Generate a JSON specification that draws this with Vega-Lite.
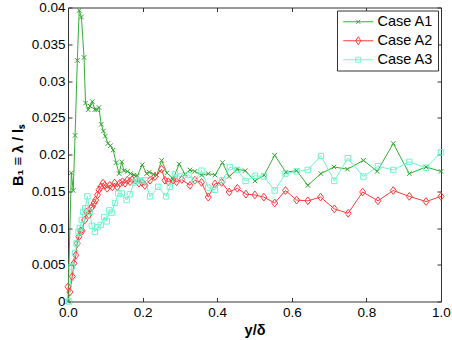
{
  "$schema": "https://vega.github.io/schema/vega-lite/v6.json",
  "width": 373,
  "height": 294,
  "autosize": {"type": "none"},
  "padding": {"left": 68, "top": 7.5, "right": 11, "bottom": 38.5},
  "config": {
    "font": "Liberation Sans",
    "view": {"stroke": "#333333", "strokeWidth": 1},
    "axis": {
      "grid": false,
      "domain": false,
      "labelFlush": false,
      "labelOverlap": false,
      "labelFont": "Liberation Sans",
      "labelFontSize": 13.5,
      "labelColor": "#000000",
      "tickColor": "#333333",
      "tickSize": -4,
      "labelPadding": 7,
      "titleFont": "Liberation Sans",
      "titleFontSize": 14.5,
      "titleFontWeight": "bold",
      "titleColor": "#000000"
    }
  },
  "datasets": {
    "pts": [
      {"case": "Case A1", "x": 0.0, "y": 0.0},
      {"case": "Case A1", "x": 0.009, "y": 0.0175},
      {"case": "Case A1", "x": 0.014, "y": 0.0151},
      {"case": "Case A1", "x": 0.019, "y": 0.0226},
      {"case": "Case A1", "x": 0.025, "y": 0.0328},
      {"case": "Case A1", "x": 0.030, "y": 0.0396},
      {"case": "Case A1", "x": 0.036, "y": 0.0387},
      {"case": "Case A1", "x": 0.043, "y": 0.0332},
      {"case": "Case A1", "x": 0.047, "y": 0.0270},
      {"case": "Case A1", "x": 0.054, "y": 0.0261},
      {"case": "Case A1", "x": 0.059, "y": 0.0266},
      {"case": "Case A1", "x": 0.065, "y": 0.0272},
      {"case": "Case A1", "x": 0.072, "y": 0.0261},
      {"case": "Case A1", "x": 0.077, "y": 0.0261},
      {"case": "Case A1", "x": 0.083, "y": 0.0264},
      {"case": "Case A1", "x": 0.089, "y": 0.0241},
      {"case": "Case A1", "x": 0.095, "y": 0.0232},
      {"case": "Case A1", "x": 0.100, "y": 0.0225},
      {"case": "Case A1", "x": 0.107, "y": 0.0215},
      {"case": "Case A1", "x": 0.114, "y": 0.0212},
      {"case": "Case A1", "x": 0.121, "y": 0.0206},
      {"case": "Case A1", "x": 0.129, "y": 0.0189},
      {"case": "Case A1", "x": 0.137, "y": 0.0174},
      {"case": "Case A1", "x": 0.144, "y": 0.0190},
      {"case": "Case A1", "x": 0.150, "y": 0.0178},
      {"case": "Case A1", "x": 0.159, "y": 0.0177},
      {"case": "Case A1", "x": 0.168, "y": 0.0174},
      {"case": "Case A1", "x": 0.177, "y": 0.0172},
      {"case": "Case A1", "x": 0.186, "y": 0.0171},
      {"case": "Case A1", "x": 0.199, "y": 0.0186},
      {"case": "Case A1", "x": 0.211, "y": 0.0174},
      {"case": "Case A1", "x": 0.218, "y": 0.0176},
      {"case": "Case A1", "x": 0.229, "y": 0.0173},
      {"case": "Case A1", "x": 0.238, "y": 0.0172},
      {"case": "Case A1", "x": 0.251, "y": 0.0192},
      {"case": "Case A1", "x": 0.265, "y": 0.0175},
      {"case": "Case A1", "x": 0.282, "y": 0.0167},
      {"case": "Case A1", "x": 0.298, "y": 0.0187},
      {"case": "Case A1", "x": 0.314, "y": 0.0173},
      {"case": "Case A1", "x": 0.327, "y": 0.0179},
      {"case": "Case A1", "x": 0.340, "y": 0.0177},
      {"case": "Case A1", "x": 0.358, "y": 0.0172},
      {"case": "Case A1", "x": 0.376, "y": 0.0174},
      {"case": "Case A1", "x": 0.394, "y": 0.0172},
      {"case": "Case A1", "x": 0.414, "y": 0.0189},
      {"case": "Case A1", "x": 0.432, "y": 0.0170},
      {"case": "Case A1", "x": 0.454, "y": 0.0180},
      {"case": "Case A1", "x": 0.475, "y": 0.0178},
      {"case": "Case A1", "x": 0.501, "y": 0.0164},
      {"case": "Case A1", "x": 0.526, "y": 0.0172},
      {"case": "Case A1", "x": 0.554, "y": 0.0199},
      {"case": "Case A1", "x": 0.584, "y": 0.0176},
      {"case": "Case A1", "x": 0.613, "y": 0.0178},
      {"case": "Case A1", "x": 0.643, "y": 0.0158},
      {"case": "Case A1", "x": 0.678, "y": 0.0174},
      {"case": "Case A1", "x": 0.713, "y": 0.0183},
      {"case": "Case A1", "x": 0.749, "y": 0.0180},
      {"case": "Case A1", "x": 0.792, "y": 0.0192},
      {"case": "Case A1", "x": 0.829, "y": 0.0177},
      {"case": "Case A1", "x": 0.872, "y": 0.0215},
      {"case": "Case A1", "x": 0.915, "y": 0.0174},
      {"case": "Case A1", "x": 0.960, "y": 0.0183},
      {"case": "Case A1", "x": 1.0, "y": 0.0177},

      {"case": "Case A2", "x": 0.0, "y": 0.0020},
      {"case": "Case A2", "x": 0.005, "y": 0.0013},
      {"case": "Case A2", "x": 0.0115, "y": 0.0034},
      {"case": "Case A2", "x": 0.016, "y": 0.0052},
      {"case": "Case A2", "x": 0.021, "y": 0.0063},
      {"case": "Case A2", "x": 0.025, "y": 0.0079},
      {"case": "Case A2", "x": 0.029, "y": 0.0088},
      {"case": "Case A2", "x": 0.034, "y": 0.0096},
      {"case": "Case A2", "x": 0.038, "y": 0.0096},
      {"case": "Case A2", "x": 0.045, "y": 0.0111},
      {"case": "Case A2", "x": 0.050, "y": 0.0122},
      {"case": "Case A2", "x": 0.056, "y": 0.0118},
      {"case": "Case A2", "x": 0.061, "y": 0.0127},
      {"case": "Case A2", "x": 0.065, "y": 0.0129},
      {"case": "Case A2", "x": 0.070, "y": 0.0134},
      {"case": "Case A2", "x": 0.074, "y": 0.0138},
      {"case": "Case A2", "x": 0.079, "y": 0.0145},
      {"case": "Case A2", "x": 0.083, "y": 0.0152},
      {"case": "Case A2", "x": 0.088, "y": 0.0156},
      {"case": "Case A2", "x": 0.094, "y": 0.0161},
      {"case": "Case A2", "x": 0.099, "y": 0.0158},
      {"case": "Case A2", "x": 0.105, "y": 0.0154},
      {"case": "Case A2", "x": 0.112, "y": 0.0158},
      {"case": "Case A2", "x": 0.119, "y": 0.0156},
      {"case": "Case A2", "x": 0.125, "y": 0.0161},
      {"case": "Case A2", "x": 0.132, "y": 0.0156},
      {"case": "Case A2", "x": 0.139, "y": 0.0161},
      {"case": "Case A2", "x": 0.146, "y": 0.0163},
      {"case": "Case A2", "x": 0.153, "y": 0.0161},
      {"case": "Case A2", "x": 0.159, "y": 0.0165},
      {"case": "Case A2", "x": 0.166, "y": 0.0163},
      {"case": "Case A2", "x": 0.172, "y": 0.0166},
      {"case": "Case A2", "x": 0.181, "y": 0.0165},
      {"case": "Case A2", "x": 0.190, "y": 0.0161},
      {"case": "Case A2", "x": 0.198, "y": 0.0162},
      {"case": "Case A2", "x": 0.206, "y": 0.0158},
      {"case": "Case A2", "x": 0.220, "y": 0.0165},
      {"case": "Case A2", "x": 0.233, "y": 0.0170},
      {"case": "Case A2", "x": 0.251, "y": 0.0180},
      {"case": "Case A2", "x": 0.260, "y": 0.0165},
      {"case": "Case A2", "x": 0.269, "y": 0.0163},
      {"case": "Case A2", "x": 0.282, "y": 0.0165},
      {"case": "Case A2", "x": 0.291, "y": 0.0163},
      {"case": "Case A2", "x": 0.305, "y": 0.0166},
      {"case": "Case A2", "x": 0.327, "y": 0.0158},
      {"case": "Case A2", "x": 0.340, "y": 0.0165},
      {"case": "Case A2", "x": 0.358, "y": 0.0162},
      {"case": "Case A2", "x": 0.376, "y": 0.0142},
      {"case": "Case A2", "x": 0.394, "y": 0.0160},
      {"case": "Case A2", "x": 0.412, "y": 0.0162},
      {"case": "Case A2", "x": 0.432, "y": 0.0149},
      {"case": "Case A2", "x": 0.454, "y": 0.0154},
      {"case": "Case A2", "x": 0.477, "y": 0.0146},
      {"case": "Case A2", "x": 0.501, "y": 0.0145},
      {"case": "Case A2", "x": 0.525, "y": 0.0142},
      {"case": "Case A2", "x": 0.554, "y": 0.0134},
      {"case": "Case A2", "x": 0.583, "y": 0.0151},
      {"case": "Case A2", "x": 0.613, "y": 0.0138},
      {"case": "Case A2", "x": 0.643, "y": 0.0137},
      {"case": "Case A2", "x": 0.677, "y": 0.0142},
      {"case": "Case A2", "x": 0.714, "y": 0.0126},
      {"case": "Case A2", "x": 0.751, "y": 0.0120},
      {"case": "Case A2", "x": 0.790, "y": 0.0149},
      {"case": "Case A2", "x": 0.831, "y": 0.0137},
      {"case": "Case A2", "x": 0.872, "y": 0.0151},
      {"case": "Case A2", "x": 0.915, "y": 0.0143},
      {"case": "Case A2", "x": 0.960, "y": 0.0136},
      {"case": "Case A2", "x": 1.0, "y": 0.0143},

      {"case": "Case A3", "x": 0.003, "y": 0.0},
      {"case": "Case A3", "x": 0.010, "y": 0.0047},
      {"case": "Case A3", "x": 0.019, "y": 0.0066},
      {"case": "Case A3", "x": 0.023, "y": 0.0079},
      {"case": "Case A3", "x": 0.028, "y": 0.0095},
      {"case": "Case A3", "x": 0.032, "y": 0.0100},
      {"case": "Case A3", "x": 0.037, "y": 0.0111},
      {"case": "Case A3", "x": 0.041, "y": 0.0122},
      {"case": "Case A3", "x": 0.046, "y": 0.0127},
      {"case": "Case A3", "x": 0.052, "y": 0.0143},
      {"case": "Case A3", "x": 0.059, "y": 0.0122},
      {"case": "Case A3", "x": 0.064, "y": 0.0103},
      {"case": "Case A3", "x": 0.072, "y": 0.0095},
      {"case": "Case A3", "x": 0.079, "y": 0.0101},
      {"case": "Case A3", "x": 0.088, "y": 0.0104},
      {"case": "Case A3", "x": 0.097, "y": 0.0115},
      {"case": "Case A3", "x": 0.104, "y": 0.0109},
      {"case": "Case A3", "x": 0.111, "y": 0.0124},
      {"case": "Case A3", "x": 0.117, "y": 0.0121},
      {"case": "Case A3", "x": 0.126, "y": 0.0134},
      {"case": "Case A3", "x": 0.135, "y": 0.0147},
      {"case": "Case A3", "x": 0.144, "y": 0.0147},
      {"case": "Case A3", "x": 0.157, "y": 0.0138},
      {"case": "Case A3", "x": 0.166, "y": 0.0146},
      {"case": "Case A3", "x": 0.177, "y": 0.0162},
      {"case": "Case A3", "x": 0.186, "y": 0.0165},
      {"case": "Case A3", "x": 0.196, "y": 0.0164},
      {"case": "Case A3", "x": 0.206, "y": 0.0165},
      {"case": "Case A3", "x": 0.220, "y": 0.0143},
      {"case": "Case A3", "x": 0.242, "y": 0.0156},
      {"case": "Case A3", "x": 0.263, "y": 0.0143},
      {"case": "Case A3", "x": 0.273, "y": 0.0156},
      {"case": "Case A3", "x": 0.287, "y": 0.0173},
      {"case": "Case A3", "x": 0.300, "y": 0.0170},
      {"case": "Case A3", "x": 0.323, "y": 0.0172},
      {"case": "Case A3", "x": 0.340, "y": 0.0165},
      {"case": "Case A3", "x": 0.358, "y": 0.0178},
      {"case": "Case A3", "x": 0.376, "y": 0.0155},
      {"case": "Case A3", "x": 0.394, "y": 0.0152},
      {"case": "Case A3", "x": 0.414, "y": 0.0165},
      {"case": "Case A3", "x": 0.434, "y": 0.0183},
      {"case": "Case A3", "x": 0.454, "y": 0.0179},
      {"case": "Case A3", "x": 0.476, "y": 0.0164},
      {"case": "Case A3", "x": 0.501, "y": 0.0171},
      {"case": "Case A3", "x": 0.525, "y": 0.0170},
      {"case": "Case A3", "x": 0.554, "y": 0.0151},
      {"case": "Case A3", "x": 0.583, "y": 0.0174},
      {"case": "Case A3", "x": 0.613, "y": 0.0177},
      {"case": "Case A3", "x": 0.643, "y": 0.0179},
      {"case": "Case A3", "x": 0.678, "y": 0.0198},
      {"case": "Case A3", "x": 0.714, "y": 0.0164},
      {"case": "Case A3", "x": 0.750, "y": 0.0195},
      {"case": "Case A3", "x": 0.792, "y": 0.0170},
      {"case": "Case A3", "x": 0.831, "y": 0.0184},
      {"case": "Case A3", "x": 0.872, "y": 0.0179},
      {"case": "Case A3", "x": 0.915, "y": 0.0190},
      {"case": "Case A3", "x": 0.960, "y": 0.0182},
      {"case": "Case A3", "x": 1.0, "y": 0.0203}
    ]
  },
  "data": {"name": "pts"},
  "layer": [
    {
      "mark": {"type": "line", "strokeWidth": 1},
      "encoding": {
        "x": {
          "field": "x", "type": "quantitative",
          "scale": {"domain": [0, 1], "nice": false},
          "axis": {"orient": "bottom", "values": [0, 0.2, 0.4, 0.6, 0.8, 1.0], "format": ".1f", "title": "y/δ", "titlePadding": 4, "labelPadding": 8}
        },
        "y": {
          "field": "y", "type": "quantitative",
          "scale": {"domain": [0, 0.04], "nice": false},
          "axis": {"orient": "left", "values": [0, 0.005, 0.01, 0.015, 0.02, 0.025, 0.03, 0.035, 0.04], "format": "~g", "title": "B₁ ≡ λ / lₛ", "titlePadding": 6}
        },
        "color": {
          "field": "case", "type": "nominal",
          "scale": {"domain": ["Case A1", "Case A2", "Case A3"], "range": ["#33b033", "#ff3b3b", "#6ff5cc"]},
          "legend": {
            "title": null,
            "orient": "top-right",
            "offset": 3,
            "padding": 4,
            "strokeColor": "#333333",
            "fillColor": "#ffffff",
            "labelFont": "Liberation Sans",
            "labelFontSize": 14.5,
            "labelColor": "#000000",
            "labelOffset": 22,
            "rowPadding": 4,
            "symbolSize": 100,
            "symbolStrokeWidth": 1,
            "symbolType": "M-1,0H5",
            "encode": {
              "symbols": {
                "update": {
                  "shape": {"signal": "datum.value === 'Case A1' ? 'M-1,0H5M1.6,-0.4L2.4,0.4M1.6,0.4L2.4,-0.4' : datum.value === 'Case A2' ? 'M-1,0H5M2,-0.8L2.5,0L2,0.8L1.5,0Z' : 'M-1,0H5M1.5,-0.5H2.5V0.5H1.5Z'"},
                  "fill": {"value": "transparent"}
                }
              }
            }
          }
        }
      }
    },
    {
      "transform": [{"filter": "datum.case === 'Case A1'"}],
      "mark": {"type": "point", "filled": false, "strokeWidth": 1, "opacity": 1, "size": 36, "color": "#2fa52f", "shape": "M-0.75,-0.75L0.75,0.75M-0.75,0.75L0.75,-0.75"},
      "encoding": {
        "x": {
          "field": "x", "type": "quantitative",
          "axis": {"orient": "top", "values": [0, 0.2, 0.4, 0.6, 0.8, 1.0], "labels": false, "title": null}
        },
        "y": {
          "field": "y", "type": "quantitative",
          "axis": {"orient": "right", "values": [0, 0.005, 0.01, 0.015, 0.02, 0.025, 0.03, 0.035, 0.04], "labels": false, "title": null}
        }
      }
    },
    {
      "transform": [{"filter": "datum.case === 'Case A2'"}],
      "mark": {"type": "point", "filled": false, "strokeWidth": 1, "opacity": 1, "size": 36, "color": "#ff3b3b", "shape": "M0,-1.3L1,0L0,1.3L-1,0Z"},
      "encoding": {
        "x": {"field": "x", "type": "quantitative", "axis": null},
        "y": {"field": "y", "type": "quantitative", "axis": null}
      }
    },
    {
      "transform": [{"filter": "datum.case === 'Case A3'"}],
      "mark": {"type": "point", "filled": false, "strokeWidth": 1, "opacity": 1, "size": 36, "color": "#6ff5cc", "shape": "M-0.9,-0.9H0.9V0.9H-0.9Z"},
      "encoding": {
        "x": {"field": "x", "type": "quantitative", "axis": null},
        "y": {"field": "y", "type": "quantitative", "axis": null}
      }
    }
  ],
  "resolve": {"axis": {"x": "independent", "y": "independent"}}
}
